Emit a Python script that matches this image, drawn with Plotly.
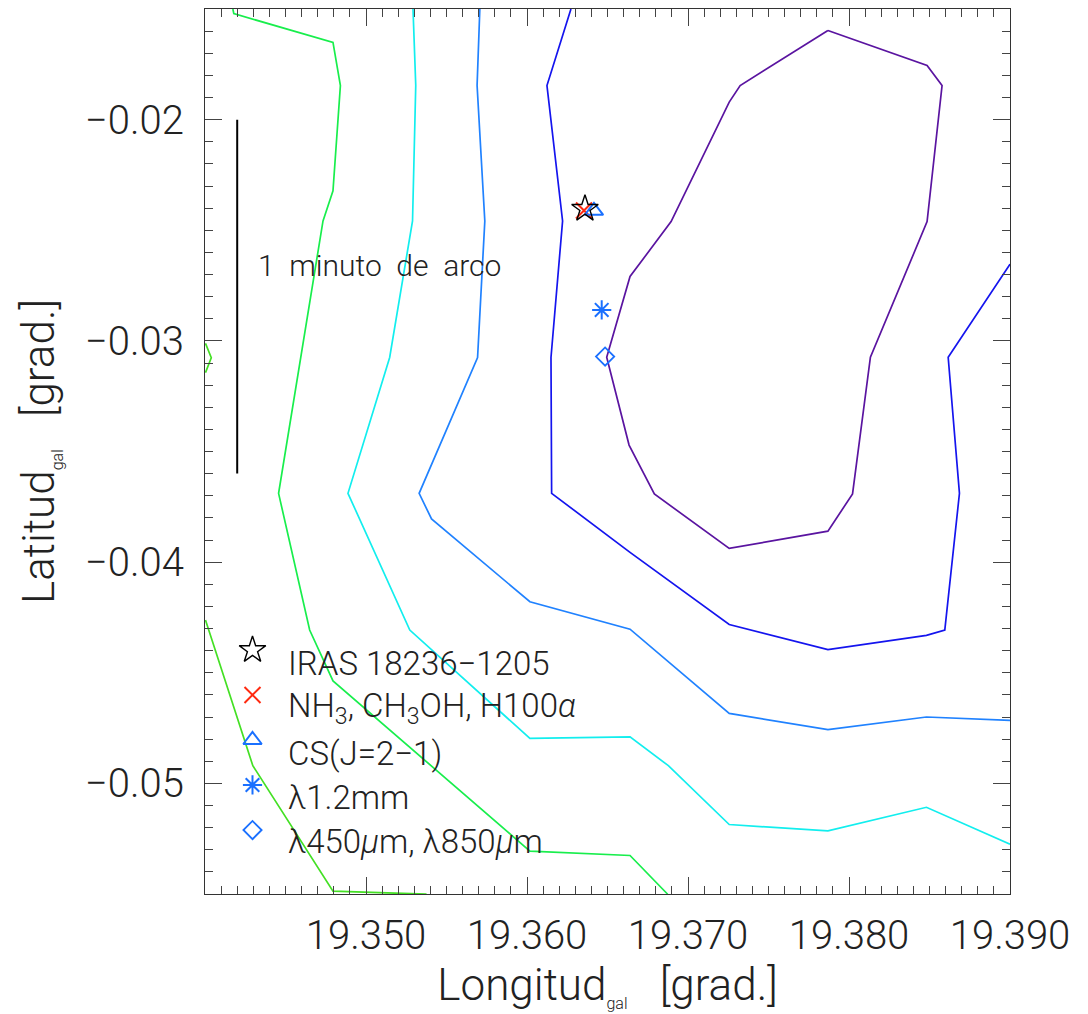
import plotly.graph_objects as go

# ---- contour polylines (galactic lon / lat, degrees), lowest level first ----
lvl1_lon = [19.34003, 19.34297, 19.34795, 19.35376]
lvl1_lat = [-0.04262, -0.04920, -0.05487, -0.05501]
lvl1b_lon = [19.34003, 19.34039, 19.34003]
lvl1b_lat = [-0.03011, -0.03076, -0.03144]

lvl2_lon = [19.34173, 19.34179, 19.34795, 19.34841, 19.34795, 19.34733,
            19.34457, 19.34650, 19.34795, 19.36018, 19.36640, 19.36874]
lvl2_lat = [-0.01500, -0.01521, -0.01651, -0.01846, -0.02322, -0.02458,
            -0.03689, -0.04307, -0.04537, -0.05306, -0.05326, -0.05501]

lvl3_lon = [19.35292, 19.35309, 19.35289, 19.35147, 19.34888, 19.35272, 19.36018,
            19.36640, 19.36878, 19.37256, 19.37869, 19.38481, 19.39000]
lvl3_lat = [-0.01500, -0.01846, -0.02458, -0.03075, -0.03689, -0.04307, -0.04797,
            -0.04790, -0.04920, -0.05186, -0.05215, -0.05108, -0.05275]

lvl4_lon = [19.35707, 19.35690, 19.35738, 19.35693, 19.35330, 19.35407,
            19.36018, 19.36640, 19.37256, 19.37869, 19.38481, 19.39000]
lvl4_lat = [-0.01500, -0.01846, -0.02458, -0.03075, -0.03689, -0.03805,
            -0.04179, -0.04303, -0.04684, -0.04757, -0.04700, -0.04715]

lvl5_lon = [19.36273, 19.36124, 19.36221, 19.36149, 19.36153, 19.36640, 19.37256,
            19.37869, 19.38481, 19.38595, 19.38686, 19.38616, 19.39000]
lvl5_lat = [-0.01500, -0.01846, -0.02458, -0.03075, -0.03689, -0.03956, -0.04282,
            -0.04395, -0.04331, -0.04307, -0.03689, -0.03074, -0.02653]

lvl6_lon = [19.37869, 19.38485, 19.38578, 19.38485, 19.38133, 19.38022, 19.37869, 19.37256,
            19.36791, 19.36634, 19.36495, 19.36640, 19.36895, 19.37256, 19.37324, 19.37869]
lvl6_lat = [-0.01597, -0.01755, -0.01846, -0.02461, -0.03074, -0.03692, -0.03860, -0.03938,
            -0.03692, -0.03471, -0.03074, -0.02709, -0.02461, -0.01921, -0.01846, -0.01597]

# ---- source positions ----
source_names = ["IRAS 18236\u22121205",
                "NH<sub>3</sub>, CH<sub>3</sub>OH, H100<i>\u03b1</i>",
                "CS(J=2\u22121)",
                "\u03bb1.2mm",
                "\u03bb450<i>\u03bc</i>m, \u03bb850<i>\u03bc</i>m"]
source_lon = [19.36360, 19.36354, 19.36416, 19.36464, 19.36485]
source_lat = [-0.02403, -0.02411, -0.02412, -0.02860, -0.03071]

# 1 arcminute scale bar
scale_lon = [19.34200, 19.34200]
scale_lat = [-0.02000, -0.03600]
scale_label = "1\u00a0 minuto\u00a0 de\u00a0 arco"

x_ticks = [19.35, 19.36, 19.37, 19.38, 19.39]
y_ticks = [-0.05, -0.04, -0.03, -0.02]

# ---- styles ----
FONT = "Roboto"
W = 300
TXT = "#222222"
contours = [
    (lvl1_lon, lvl1_lat, "#44e024"),
    (lvl1b_lon, lvl1b_lat, "#44e024"),
    (lvl2_lon, lvl2_lat, "#18ee4c"),
    (lvl3_lon, lvl3_lat, "#12eeee"),
    (lvl4_lon, lvl4_lat, "#2082ff"),
    (lvl5_lon, lvl5_lat, "#1414ee"),
    (lvl6_lon, lvl6_lat, "#5a14a0"),
]
marker_styles = [
    dict(symbol="star-open", size=20, color="black", line=dict(color="black", width=1.4)),
    dict(symbol="x-thin-open", size=16, color="#ff2a10", line=dict(color="#ff2a10", width=2)),
    dict(symbol="triangle-up-open", size=16, color="#1a70ff", line=dict(color="#1a70ff", width=2)),
    dict(symbol="asterisk-open", size=16, color="#1a70ff", line=dict(color="#1a70ff", width=2)),
    dict(symbol="diamond-open", size=14, color="#1a70ff", line=dict(color="#1a70ff", width=1.8)),
]
draw_order = [1, 2, 0, 3, 4]

fig = go.Figure()

for lon, lat, col in contours:
    fig.add_trace(go.Scatter(x=lon, y=lat, mode="lines", line=dict(color=col, width=1.7),
                             showlegend=False, hoverinfo="skip"))

fig.add_trace(go.Scatter(x=scale_lon, y=scale_lat, mode="lines",
                         line=dict(color="black", width=2), showlegend=False, hoverinfo="skip"))

for i in draw_order:
    fig.add_trace(go.Scatter(x=[source_lon[i]], y=[source_lat[i]], mode="markers",
                             marker=marker_styles[i], name=source_names[i], showlegend=False))

# key: symbols on an invisible unit overlay, labels as annotations
key_x_sym = 0.059
key_x_txt = 0.101
key_y_sym = [0.2757, 0.2249, 0.1740, 0.1232, 0.0723]
key_y_txt = [0.2610, 0.2102, 0.1593, 0.1096, 0.0588]
for i in range(len(source_names)):
    fig.add_trace(go.Scatter(x=[key_x_sym], y=[key_y_sym[i]], mode="markers",
                             marker=marker_styles[i], xaxis="x2", yaxis="y2",
                             showlegend=False, hoverinfo="skip"))
    fig.add_annotation(x=key_x_txt, y=key_y_txt[i], xref="paper", yref="paper",
                       text=source_names[i], showarrow=False, xanchor="left", yanchor="middle",
                       font=dict(family=FONT, size=33, color=TXT, weight=W))

fig.add_annotation(x=19.34315, y=-0.02660, xref="x", yref="y", text=scale_label,
                   showarrow=False, xanchor="left", yanchor="middle",
                   font=dict(family=FONT, size=30, color=TXT, weight=W))

axis_common = dict(
    showgrid=False, zeroline=False, showline=True, linecolor="#333333", linewidth=1.2,
    mirror="allticks", ticks="inside", ticklen=17, tickwidth=1.2, tickcolor="#444444",
    tickmode="array",
    tickfont=dict(family=FONT, size=40, color=TXT, weight=W),
    minor=dict(ticks="inside", ticklen=8, tickwidth=1.2, tickcolor="#444444",
               tickmode="linear", dtick=0.001),
)

fig.update_layout(
    width=1088, height=1014,
    margin=dict(l=205, r=78, t=9, b=120),
    paper_bgcolor="white", plot_bgcolor="white",
    showlegend=False,
    xaxis=dict(range=[19.340, 19.390], tickvals=x_ticks, tickformat=".3f",
               ticklabelstandoff=6,
               title=dict(text="Longitud<sub><span style='font-size:16px'>gal</span></sub>\u00a0\u00a0 [grad.]",
                          font=dict(family=FONT, size=44, color=TXT, weight=W), standoff=9),
               **axis_common),
    yaxis=dict(range=[-0.055, -0.015], tickvals=y_ticks, tickformat=".2f",
               ticklabelstandoff=12,
               title=dict(text="Latitud<sub><span style='font-size:16px'>gal</span></sub>\u00a0\u00a0 [grad.]",
                          font=dict(family=FONT, size=44, color=TXT, weight=W), standoff=16),
               **axis_common),
    xaxis2=dict(range=[0, 1], overlaying="x", visible=False, fixedrange=True),
    yaxis2=dict(range=[0, 1], overlaying="y", visible=False, fixedrange=True),
)
fig.update_xaxes(minor_tick0=19.34, selector=dict(anchor="y"))
fig.update_yaxes(minor_tick0=-0.055, selector=dict(anchor="x"))

fig.write_html("out.html")
